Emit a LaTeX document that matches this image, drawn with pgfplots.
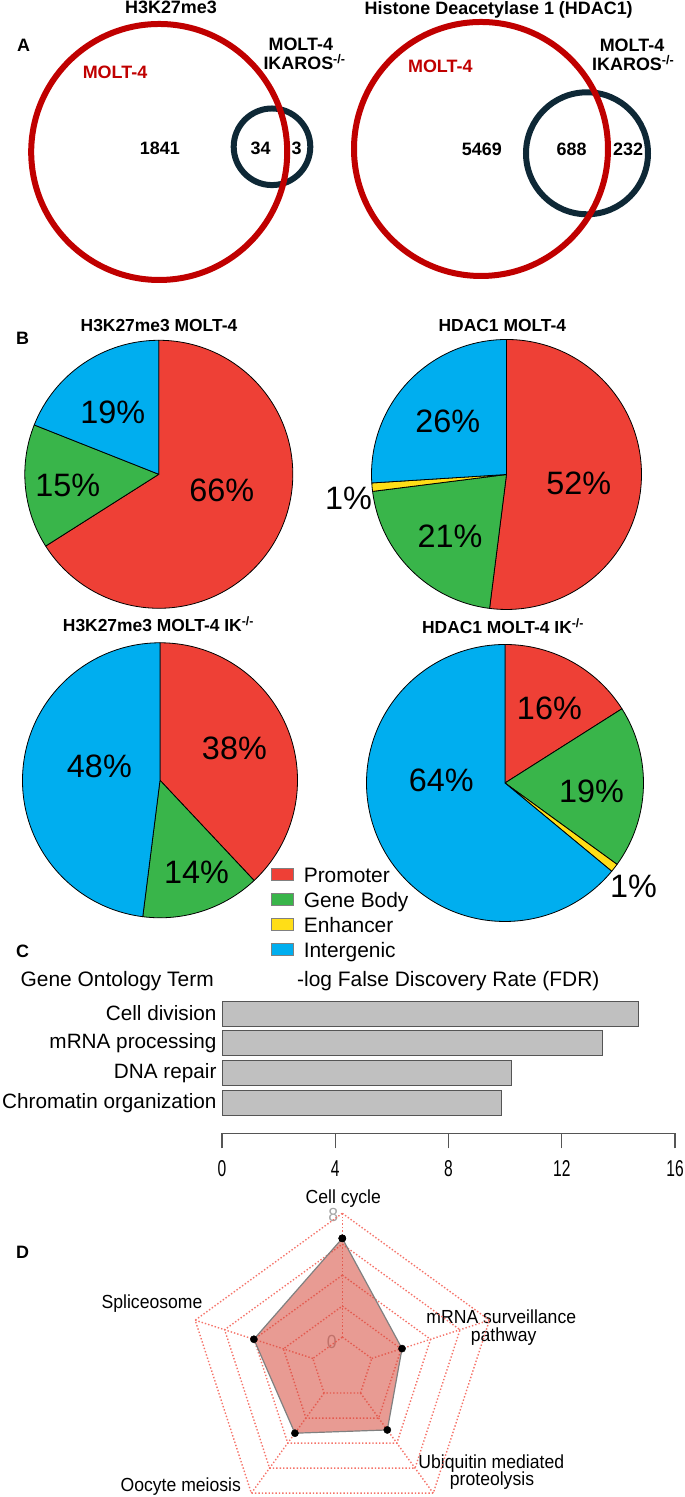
\documentclass[border=0pt]{standalone}
\usepackage{fontspec}
\setmainfont{Liberation Sans}
\newfontfamily\radarfont[FakeStretch=0.93]{Liberation Sans}
\newfontfamily\tickfont[FakeStretch=0.68]{Liberation Sans}
\usepackage{pgfplots}
\usepackage{pgfplotstable}
\pgfplotsset{compat=1.18}
\definecolor{vennred}{RGB}{192,0,0}
\definecolor{venndark}{RGB}{14,40,54}
\definecolor{pred}{RGB}{238,64,54}
\definecolor{pgreen}{RGB}{57,181,74}
\definecolor{pyellow}{RGB}{255,222,23}
\definecolor{pblue}{RGB}{0,174,239}
\definecolor{bargray}{RGB}{192,192,192}
\definecolor{baredge}{RGB}{85,85,85}
\definecolor{gridred}{RGB}{245,115,105}
\definecolor{radfill}{RGB}{214,72,58}

% panel C: -log FDR per GO term (pos 3 = top bar)
\pgfplotstableread{
pos value
3 14.71
2 13.45
1 10.24
0 9.87
}\godata

% panel D: radar values (angle of spoke, value on 0..8 scale)
\pgfplotstableread{
angle v
90 6.38
18 2.06
-54 2.95
-126 3.21
162 4.01
90 6.38
}\radardata

% pie: centre x, centre y, radius, list percent/colour (clockwise from top)
\newcommand\pieslices[4]{%
  \def\pieang{90}%
  \foreach \p/\c in {#4}{%
    \pgfmathsetmacro\pieend{\pieang-3.6*\p}%
    \filldraw[fill=\c, draw=black, line width=0.8bp, line join=round]
      (#1,#2) -- ++(\pieang:#3bp) arc[start angle=\pieang, end angle=\pieend, radius=#3bp] -- cycle;
    \global\let\pieang\pieend
  }%
}

\tikzset{
  vt/.style={font=\bfseries\fontsize{18}{18}\selectfont, anchor=base, inner sep=0pt},
  pt/.style={font=\bfseries\fontsize{17.5}{17.5}\selectfont, anchor=base, inner sep=0pt},
  pct/.style={font=\fontsize{32.5}{32.5}\selectfont, anchor=center, inner sep=0pt},
  lg/.style={font=\fontsize{21}{21}\selectfont, anchor=base west, inner sep=0pt},
  rl/.style={font=\radarfont\fontsize{19}{19}\selectfont, anchor=base, inner sep=0pt},
}

\begin{document}
\begin{tikzpicture}
\useasboundingbox (0,0) rectangle (685bp,1497bp);
\begin{scope}[x=1bp,y=-1bp,shift={(0bp,1497bp)}]
  % ---------------- Panel A: Venn diagrams
  \draw[venndark, line width=6bp] (272,146.8) circle[radius=38.3bp];
  \draw[vennred, line width=6bp] (159.2,152) circle[radius=128bp];
  \draw[venndark, line width=6bp] (587,153.3) circle[radius=61bp];
  \draw[vennred, line width=6bp] (481,149) circle[radius=127bp];

  \node[vt] at (171,13.5) {H3K27me3};
  \node[vt] at (498.7,15) {Histone Deacetylase 1 (HDAC1)};
  \node[vt, anchor=base west] at (17,51.7) {A};
  \node[vt, vennred] at (115,79) {MOLT-4};
  \node[vt] at (159.8,155) {1841};
  \node[vt] at (260.7,155) {34};
  \node[vt] at (296.5,155) {3};
  \node[vt] at (300.8,50.7) {MOLT-4};
  \node[vt, anchor=base west] at (263.3,70) {IKAROS\textsuperscript{-/-}};
  \node[vt, vennred] at (440.3,72.7) {MOLT-4};
  \node[vt] at (481.8,156) {5469};
  \node[vt] at (571.7,156) {688};
  \node[vt] at (628.2,156) {232};
  \node[vt] at (632,51.7) {MOLT-4};
  \node[vt, anchor=base west] at (592,71) {IKAROS\textsuperscript{-/-}};

  % ---------------- Panel B: pies
  \pieslices{158.8}{474.3}{134}{66/pred,15/pgreen,19/pblue}
  \pieslices{506.5}{474.5}{135}{52/pred,21/pgreen,1/pyellow,26/pblue}
  \pieslices{160}{780.3}{137.5}{38/pred,14/pgreen,48/pblue}
  \pieslices{505}{783}{138.5}{16/pred,19/pgreen,1/pyellow,64/pblue}

  \node[vt, anchor=base west] at (16,345) {B};
  \node[pt] at (159,331.7) {H3K27me3 MOLT-4};
  \node[pt] at (502.4,331.7) {HDAC1 MOLT-4};
  \node[pt] at (158.4,631.7) {H3K27me3 MOLT-4 IK\textsuperscript{-/-}};
  \node[pt] at (503,633.3) {HDAC1 MOLT-4 IK\textsuperscript{-/-}};

  \node[pct] at (112.7,412.7) {19\%};
  \node[pct] at (67.7,485) {15\%};
  \node[pct] at (221.7,490) {66\%};
  \node[pct] at (447.8,421.7) {26\%};
  \node[pct] at (578.8,483.3) {52\%};
  \node[pct] at (450,536.7) {21\%};
  \node[pct] at (348.4,498.3) {1\%};
  \node[pct] at (234.4,748.3) {38\%};
  \node[pct] at (99.4,766) {48\%};
  \node[pct] at (196.6,872.5) {14\%};
  \node[pct] at (549.4,708.3) {16\%};
  \node[pct] at (591.5,791) {19\%};
  \node[pct] at (441.2,780) {64\%};
  \node[pct] at (633.5,886.7) {1\%};

  % legend
  \foreach \yy/\cc/\tt in {874.3/pred/Promoter, 899.3/pgreen/Gene Body, 924.3/pyellow/Enhancer, 949.3/pblue/Intergenic}{
    \filldraw[fill=\cc, draw=gray, line width=0.6bp] (271.7,\yy-6.3) rectangle (293.6,\yy+6.3);
    \node[lg] at (303.6,\yy+8.4) {\tt};
  }

  % ---------------- Panel C texts
  \node[vt, anchor=base west] at (16,957.3) {C};
  \node[lg] at (20.5,986.7) {Gene Ontology Term};
  \node[lg] at (297,986.7) {-log False Discovery Rate (FDR)};

  % ---------------- Panel D texts
  \node[vt, anchor=base west] at (16,1258.3) {D};
  \node[rl] at (343.3,1203.3) {Cell cycle};
  \node[rl, gray!70] at (333.3,1221.7) {8};
  \node[rl, gray!70] at (331.7,1348.3) {0};
  \node[rl] at (152,1308.3) {Spliceosome};
  \node[rl] at (501.3,1323.3) {mRNA surveillance};
  \node[rl] at (503.7,1341.7) {pathway};
  \node[rl] at (491.3,1468.3) {Ubiquitin mediated};
  \node[rl] at (492,1486) {proteolysis};
  \node[rl] at (180.8,1491.7) {Oocyte meiosis};
\end{scope}

% ---------------- Panel C: bar chart
\begin{axis}[
  at={(222bp,363.7bp)}, anchor=south west,
  scale only axis, width=453bp, height=138.3bp,
  xmin=0, xmax=16, ymin=-1.0, ymax=3.62,
  xbar, bar width=0.835,
  axis x line*=bottom, axis y line*=left,
  y axis line style={draw=none},
  ytick={0,1,2,3},
  yticklabels={Chromatin organization,DNA repair,mRNA processing,Cell division},
  ytick style={draw=none},
  yticklabel style={font=\fontsize{20.8}{20.8}\selectfont, xshift=13bp},
  xtick={0,4,8,12,16}, xticklabels={0,4,8,12,16},
  xticklabel style={font=\tickfont\fontsize{23}{23}\selectfont, yshift=-9bp},
  tick align=outside, major tick length=15bp,
  x axis line style={draw=baredge, line width=1.3bp, -},
  xtick style={draw=baredge, line width=1.3bp},
  clip=false,
]
\addplot[fill=bargray, draw=baredge, line width=1bp] table[x=value, y=pos] {\godata};
\end{axis}

% ---------------- Panel D: radar chart
\begin{axis}[
  at={(187.6bp,3.7bp)}, anchor=south west,
  scale only axis, width=309.4bp, height=280.0bp,
  xmin=-1, xmax=1, ymin=-0.81, ymax=1,
  hide axis, clip=false,
]
\foreach \rr in {0.2,0.4,0.6,0.8,1.0}{
  \edef\tmp{\noexpand\addplot[gridred, line width=1.4bp, dash pattern=on 1.4bp off 2.0bp, data cs=polar]
    coordinates {(90,\rr) (18,\rr) (-54,\rr) (-126,\rr) (162,\rr) (90,\rr)};}\tmp
}
\addplot[gridred, line width=1.4bp, dash pattern=on 1.4bp off 2.0bp, data cs=polar] coordinates {(90,0.2) (90,1)};
\addplot[gridred, line width=1.4bp, dash pattern=on 1.4bp off 2.0bp, data cs=polar] coordinates {(18,0.2) (18,1)};
\addplot[gridred, line width=1.4bp, dash pattern=on 1.4bp off 2.0bp, data cs=polar] coordinates {(-54,0.2) (-54,1)};
\addplot[gridred, line width=1.4bp, dash pattern=on 1.4bp off 2.0bp, data cs=polar] coordinates {(-126,0.2) (-126,1)};
\addplot[gridred, line width=1.4bp, dash pattern=on 1.4bp off 2.0bp, data cs=polar] coordinates {(162,0.2) (162,1)};
\addplot[draw=gray, fill=radfill, fill opacity=0.55, line width=1.2bp, data cs=polar]
  table[x=angle, y expr=0.2+0.1*\thisrow{v}] {\radardata};
\addplot[only marks, mark=*, mark size=3.6bp, black, data cs=polar]
  table[x=angle, y expr=0.2+0.1*\thisrow{v}] {\radardata};
\end{axis}
\end{tikzpicture}
\end{document}
